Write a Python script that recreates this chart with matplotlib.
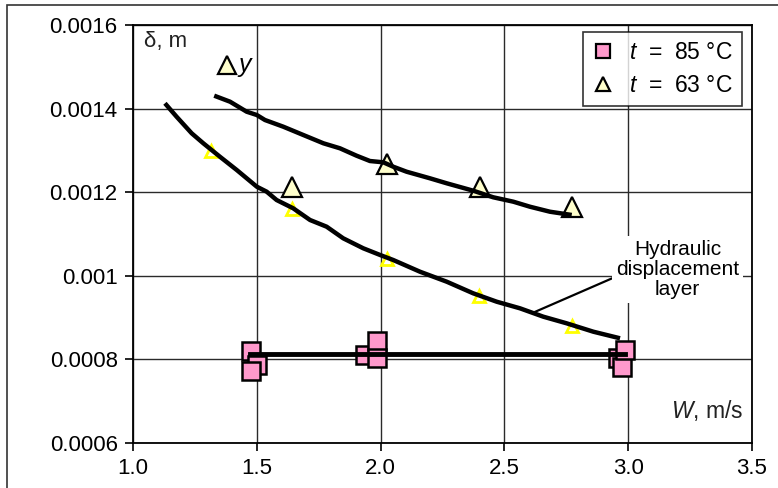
import matplotlib
matplotlib.use("Agg")
import matplotlib.pyplot as plt
from matplotlib.lines import Line2D
from matplotlib.patches import Rectangle

plt.rcParams["font.family"] = ["Liberation Sans", "DejaVu Sans"]
plt.rcParams["mathtext.fontset"] = "custom"
plt.rcParams["mathtext.rm"] = "Liberation Sans"
plt.rcParams["mathtext.it"] = "Liberation Sans:italic"

# measured points, t = 85 C
w85 = [1.477, 1.501, 1.477, 1.937, 1.985, 1.985, 2.959, 2.975, 2.987]
d85 = [0.000820, 0.000787, 0.000772, 0.000810, 0.000844, 0.000803, 0.000803, 0.000782, 0.000822]
# mean level for 85 C
w85_line = [1.473, 2.987]
d85_line = [0.000813, 0.000813]

# measured points, t = 63 C
w63 = [1.641, 2.024, 2.401, 2.775]
d63 = [0.001213, 0.001268, 0.001213, 0.001165]

# hydraulic displacement layer points
w_hyd = [1.317, 1.641, 2.024, 2.399, 2.772]
d_hyd = [0.001299, 0.001160, 0.001040, 0.000952, 0.000880]

# traced curve for delta_y
w_up = [1.328, 1.392, 1.459, 1.500, 1.533, 1.607, 1.688, 1.769, 1.836, 1.903,
        1.957, 2.011, 2.051, 2.105, 2.199, 2.267, 2.374, 2.455, 2.536, 2.603,
        2.684, 2.772]
d_up = [0.0014309, 0.0014165, 0.0013926, 0.0013847, 0.0013727, 0.0013567,
        0.0013368, 0.0013170, 0.0013050, 0.0012873, 0.0012746, 0.0012715,
        0.0012610, 0.0012490, 0.0012333, 0.0012213, 0.0012036, 0.0011878,
        0.0011773, 0.0011653, 0.0011533, 0.0011455]

# traced curve for the displacement layer
w_low = [1.129, 1.176, 1.237, 1.284, 1.351, 1.419, 1.500, 1.540, 1.580, 1.647,
         1.715, 1.782, 1.849, 1.930, 1.998, 2.051, 2.159, 2.267, 2.374, 2.469,
         2.563, 2.657, 2.751, 2.859, 2.967]
d_low = [0.0014127, 0.0013806, 0.0013409, 0.0013170, 0.0012849, 0.0012531,
         0.0012132, 0.0012012, 0.0011813, 0.0011615, 0.0011335, 0.0011175,
         0.0010897, 0.0010658, 0.0010498, 0.0010378, 0.0010098, 0.0009859,
         0.0009581, 0.0009380, 0.0009222, 0.0009022, 0.0008864, 0.0008663,
         0.0008505]

x_ticks = [1.0, 1.5, 2.0, 2.5, 3.0, 3.5]
x_labels = ["1.0", "1.5", "2.0", "2.5", "3.0", "3.5"]
y_ticks = [0.0006, 0.0008, 0.001, 0.0012, 0.0014, 0.0016]
y_labels = ["0.0006", "0.0008", "0.001", "0.0012", "0.0014", "0.0016"]

PINK = "#ff99cc"
CREAM = "#ffffcc"
YELLOW = "#ffff00"

fig = plt.figure(figsize=(7.78, 4.88), dpi=100)
ax = fig.add_axes([133 / 778, 45 / 488, 619 / 778, 418 / 488])

# chart-area frame (left and top edges visible)
fig.add_artist(Rectangle((7 / 778, -0.05), 1.2, 1.05 - 5 / 488, transform=fig.transFigure,
                         fill=False, edgecolor="#333333", linewidth=1.2))

ax.set_xlim(1.0, 3.5)
ax.set_ylim(0.0006, 0.0016)
ax.set_xticks(x_ticks)
ax.set_xticklabels(x_labels)
ax.set_yticks(y_ticks)
ax.set_yticklabels(y_labels)
ax.tick_params(axis="both", direction="out", length=6, width=1.2, labelsize=16, colors="black")
ax.tick_params(axis="x", pad=5)
ax.tick_params(axis="y", pad=5)
ax.grid(True, color="#2a2a2a", linewidth=1.0)
ax.set_axisbelow(True)
for sp in ax.spines.values():
    sp.set_color("black")
    sp.set_linewidth(1.3)

ax.plot(w_hyd, d_hyd, linestyle="none", marker="^", markersize=9, markerfacecolor="white",
        markeredgecolor=YELLOW, markeredgewidth=2.0, zorder=3)
ax.plot(w85, d85, linestyle="none", marker="s", markersize=13.5, markerfacecolor=PINK,
        markeredgecolor="black", markeredgewidth=1.8, zorder=3)
ax.plot(w63, d63, linestyle="none", marker="^", markersize=14, markerfacecolor=CREAM,
        markeredgecolor="black", markeredgewidth=1.6, zorder=3)

ax.plot(w_up, d_up, color="black", linewidth=3.2, solid_capstyle="butt", zorder=4)
ax.plot(w_low, d_low, color="black", linewidth=3.2, solid_capstyle="butt", zorder=4)
ax.plot(w85_line, d85_line, color="black", linewidth=3.5, zorder=4)

# delta_y marker label
ax.plot([1.378], [0.001504], linestyle="none", marker="^", markersize=13,
        markerfacecolor=CREAM, markeredgecolor="black", markeredgewidth=1.6, zorder=4)
ax.text(1.425, 0.001504, "y", style="italic", fontsize=18, va="center", ha="left")

ax.text(1.045, 0.00156, "δ, m", fontsize=16, va="center", ha="left", color="#222222")
ax.text(3.465, 0.000678, "$W$, m/s", fontsize=16.5, va="center", ha="right", color="#222222")

ax.annotate("Hydraulic\ndisplacement\nlayer", xy=(2.617, 0.000912), xytext=(3.2, 0.001015),
            fontsize=15, ha="center", va="center", linespacing=1.05,
            bbox=dict(boxstyle="square,pad=0.2", facecolor="white", edgecolor="none"),
            arrowprops=dict(arrowstyle="-", color="black", linewidth=1.6,
                            shrinkA=0, shrinkB=0, relpos=(0.0, 0.38)),
            zorder=5)

handles = [
    Line2D([0], [0], linestyle="none", marker="s", markersize=10, markerfacecolor=PINK,
           markeredgecolor="black", markeredgewidth=1.6),
    Line2D([0], [0], linestyle="none", marker="^", markersize=10.5, markerfacecolor=CREAM,
           markeredgecolor="black", markeredgewidth=1.6),
]
leg = ax.legend(handles, ["$t$  =  85 °C", "$t$  =  63 °C"], loc="upper right",
                bbox_to_anchor=(0.984, 0.984), fontsize=16.5, frameon=True, fancybox=False,
                edgecolor="black", borderpad=0.4, handletextpad=0.7, labelspacing=0.45,
                borderaxespad=0.0, handlelength=0.9)
leg.get_frame().set_linewidth(1.2)
leg.set_zorder(6)

fig.savefig("out.png", dpi=100)
